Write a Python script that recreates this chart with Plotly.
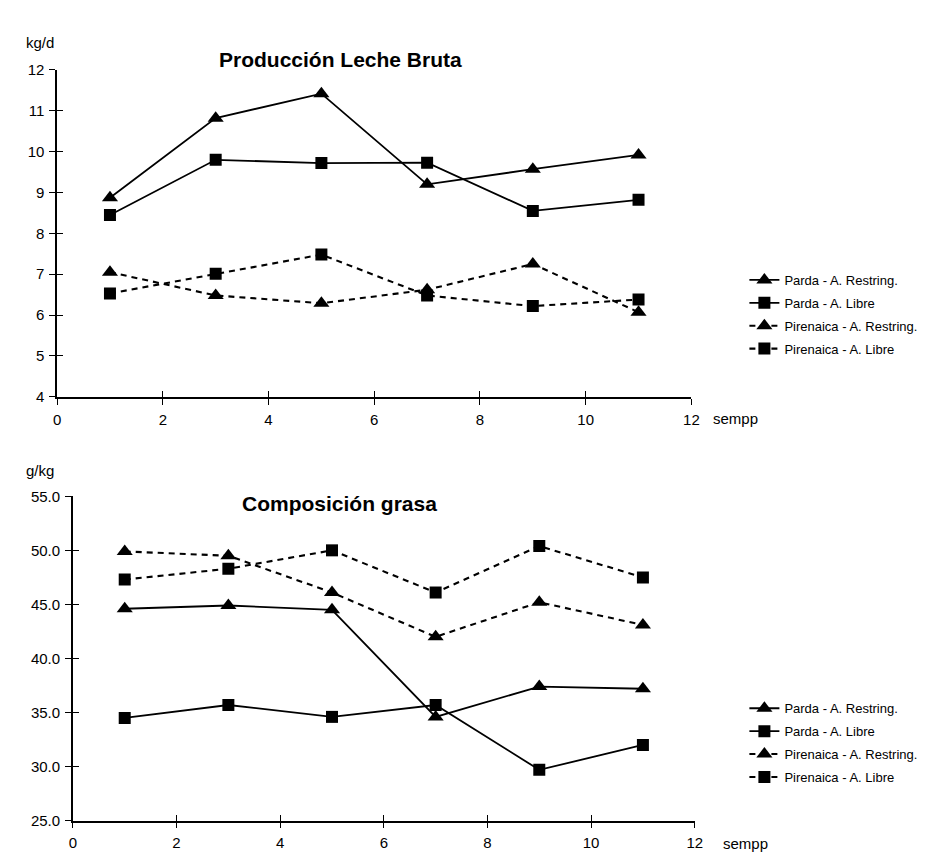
import plotly.graph_objects as go

# ---------------- data ----------------
weeks = [1, 3, 5, 7, 9, 11]
series_names = ["Parda - A. Restring.", "Parda - A. Libre",
                "Pirenaica - A. Restring.", "Pirenaica - A. Libre"]

# Producción Leche Bruta (kg/d)
milk_parda_restring = [8.87, 10.82, 11.42, 9.20, 9.57, 9.92]
milk_parda_libre = [8.45, 9.80, 9.72, 9.73, 8.55, 8.82]
milk_piren_restring = [7.05, 6.48, 6.29, 6.62, 7.25, 6.07]
milk_piren_libre = [6.53, 7.01, 7.48, 6.48, 6.22, 6.38]

# Composición grasa (g/kg)
fat_parda_restring = [44.6, 44.9, 44.5, 34.6, 37.4, 37.2]
fat_parda_libre = [34.5, 35.7, 34.6, 35.7, 29.7, 32.0]
fat_piren_restring = [49.9, 49.5, 46.1, 42.0, 45.2, 43.1]
fat_piren_libre = [47.3, 48.3, 50.0, 46.1, 50.4, 47.5]

x_ticks = [0, 2, 4, 6, 8, 10, 12]
milk_ticks = [4, 5, 6, 7, 8, 9, 10, 11, 12]
fat_ticks = [25, 30, 35, 40, 45, 50, 55]

# ---------------- figure ----------------
W, H = 927, 855
FONT = "Liberation Sans, Arial, sans-serif"
dash_pat = "6px,5px"

styles = [
    dict(symbol="triangle-up", size=14, dash="solid", width=1.8),
    dict(symbol="square", size=12, dash="solid", width=1.8),
    dict(symbol="triangle-up", size=14, dash=dash_pat, width=2.1),
    dict(symbol="square", size=12, dash=dash_pat, width=2.1),
]

fig = go.Figure()

def add_panel(ys, xref, yref, legend):
    for i, (name, vals) in enumerate(zip(series_names, ys)):
        st = styles[i]
        fig.add_trace(go.Scatter(
            x=weeks, y=vals, name=name, mode="lines+markers",
            xaxis=xref, yaxis=yref, legend=legend, legendgroup=legend + str(i),
            line=dict(color="black", width=st["width"], dash=st["dash"]),
            marker=dict(symbol=st["symbol"], size=st["size"], color="black",
                        line=dict(width=0)),
        ))

add_panel([milk_parda_restring, milk_parda_libre, milk_piren_restring, milk_piren_libre],
          "x", "y", "legend")
add_panel([fat_parda_restring, fat_parda_libre, fat_piren_restring, fat_piren_libre],
          "x2", "y2", "legend2")

# empty traces so the overlay (inside tick) axes are drawn
for xr, yr in [("x3", "y3"), ("x4", "y4")]:
    fig.add_trace(go.Scatter(x=[], y=[], xaxis=xr, yaxis=yr, showlegend=False,
                             hoverinfo="skip"))

def px_x(p):
    return p / W

def px_y(p):
    return 1 - p / H

# top panel pixel geometry
T_x0, T_x1, T_y0, T_y1 = 45.7, 688.3, 387.5, 54.0
# bottom panel pixel geometry
B_x0, B_x1, B_y0, B_y1 = 61.7, 691.7, 820.0, 489.0

tickfont = dict(family=FONT, size=15, color="black")

def xaxis_cfg(x0, x1, anchor, inside=False):
    d = dict(domain=[px_x(x0), px_x(x1)], range=[0, 12], tickvals=x_ticks,
             anchor=anchor, showgrid=False, zeroline=False,
             ticklen=6, tickwidth=1.3, tickcolor="black",
             linecolor="black", linewidth=1.5, tickfont=tickfont)
    if inside:
        d.update(ticks="inside", showticklabels=False, showline=False)
    else:
        d.update(ticks="outside", showline=True, ticklabelstandoff=2)
    return d

def yaxis_cfg(y0, y1, rng, vals, fmt, anchor, inside=False):
    d = dict(domain=[px_y(y0), px_y(y1)], range=rng, tickvals=vals,
             tickformat=fmt, anchor=anchor, showgrid=False, zeroline=False,
             ticklen=6, tickwidth=1.3, tickcolor="black",
             linecolor="black", linewidth=1.5, tickfont=tickfont)
    if inside:
        d.update(ticks="inside", showticklabels=False, showline=False)
    else:
        d.update(ticks="outside", showline=True, ticklabelstandoff=2)
    return d

fig.update_layout(
    width=W, height=H,
    margin=dict(l=0, r=0, t=0, b=0),
    paper_bgcolor="white", plot_bgcolor="rgba(0,0,0,0)",
    font=dict(family=FONT, color="black"),
    showlegend=True,
    xaxis=xaxis_cfg(T_x0, T_x1, "y"),
    yaxis=yaxis_cfg(T_y0, T_y1, [4, 12], milk_ticks, "d", "x"),
    xaxis2=xaxis_cfg(B_x0, B_x1, "y2"),
    yaxis2=yaxis_cfg(B_y0, B_y1, [25, 55], fat_ticks, ".1f", "x2"),
    xaxis3=dict(xaxis_cfg(T_x0, T_x1, "y3", inside=True), overlaying="x"),
    yaxis3=dict(yaxis_cfg(T_y0, T_y1, [4, 12], milk_ticks, "d", "x3", inside=True), overlaying="y"),
    xaxis4=dict(xaxis_cfg(B_x0, B_x1, "y4", inside=True), overlaying="x2"),
    yaxis4=dict(yaxis_cfg(B_y0, B_y1, [25, 55], fat_ticks, ".1f", "x4", inside=True), overlaying="y2"),
    legend=dict(x=px_x(742), y=px_y(253), xanchor="left", yanchor="top",
                font=dict(family=FONT, size=13), tracegroupgap=3,
                bgcolor="rgba(0,0,0,0)", borderwidth=0),
    legend2=dict(x=px_x(742), y=px_y(690), xanchor="left", yanchor="top",
                 font=dict(family=FONT, size=13), tracegroupgap=3,
                 bgcolor="rgba(0,0,0,0)", borderwidth=0),
)

ann_font = dict(family=FONT, size=15, color="black")
title_font = dict(family=FONT, size=21, color="black")
annotations = [
    dict(text="kg/d", x=px_x(12), y=px_y(26), xanchor="left", yanchor="middle", font=ann_font),
    dict(text="sempp", x=px_x(708), y=px_y(410), xanchor="left", yanchor="middle", font=ann_font),
    dict(text="<b>Producción Leche Bruta</b>", x=px_x(208), y=px_y(43),
         xanchor="left", yanchor="middle", font=title_font),
    dict(text="g/kg", x=px_x(12), y=px_y(463), xanchor="left", yanchor="middle", font=ann_font),
    dict(text="sempp", x=px_x(718), y=px_y(843), xanchor="left", yanchor="middle", font=ann_font),
    dict(text="<b>Composición grasa</b>", x=px_x(433), y=px_y(496),
         xanchor="right", yanchor="middle", font=title_font),
]
for a in annotations:
    a.update(xref="paper", yref="paper", showarrow=False)
fig.update_layout(annotations=annotations)

fig.write_html("out.html")
